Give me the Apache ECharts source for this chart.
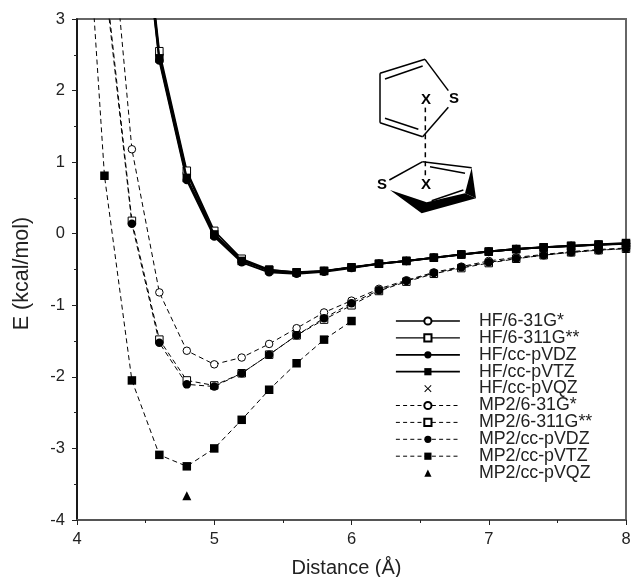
<!DOCTYPE html>
<html><head><meta charset="utf-8">
<style>html,body{margin:0;padding:0;background:#fff}#c{width:632px;height:577px}</style>
<script src="https://cdn.jsdelivr.net/npm/echarts@6/dist/echarts.min.js"></script>
</head><body><div id="c"></div>
<script>
const xHF = [4.4,4.6,4.8,5.0,5.2,5.4,5.6,5.8,6.0,6.2,6.4,6.6,6.8,7.0,7.2,7.4,7.6,7.8,8.0];
const xMP = [4.2,4.4,4.6,4.8,5.0,5.2,5.4,5.6,5.8,6.0,6.2,6.4,6.6,6.8,7.0,7.2,7.4,7.6,7.8,8.0];
const xTZ = [4.0,4.2,4.4,4.6,4.8,5.0,5.2,5.4,5.6,5.8,6.0];
const hf631 = [5.9,2.5,0.85,0.0,-0.36,-0.52,-0.55,-0.52,-0.47,-0.42,-0.38,-0.335,-0.29,-0.25,-0.215,-0.19,-0.17,-0.155,-0.14];
const hf6311 = [6.0,2.55,0.88,0.04,-0.35,-0.5,-0.54,-0.52,-0.47,-0.42,-0.38,-0.335,-0.29,-0.25,-0.215,-0.19,-0.17,-0.155,-0.14];
const hfVDZ = [5.8,2.42,0.75,-0.04,-0.4,-0.54,-0.56,-0.53,-0.48,-0.42,-0.38,-0.335,-0.29,-0.25,-0.215,-0.19,-0.17,-0.155,-0.14];
const hfVTZ = [5.85,2.45,0.78,-0.01,-0.38,-0.51,-0.54,-0.52,-0.47,-0.42,-0.38,-0.335,-0.29,-0.25,-0.215,-0.19,-0.17,-0.15,-0.13];
const hfVQZx = [4.8]; const hfVQZ = [0.78];
const mp631 = [5.4,1.18,-0.82,-1.635,-1.825,-1.73,-1.54,-1.32,-1.1,-0.935,-0.77,-0.65,-0.54,-0.46,-0.38,-0.33,-0.29,-0.25,-0.22,-0.2];
const mp6311 = [3.7,0.18,-1.48,-2.05,-2.12,-1.95,-1.69,-1.42,-1.2,-1.0,-0.8,-0.67,-0.56,-0.48,-0.41,-0.35,-0.3,-0.26,-0.23,-0.21];
const mpVDZ = [3.6,0.14,-1.525,-2.105,-2.135,-1.95,-1.69,-1.42,-1.18,-0.97,-0.79,-0.66,-0.55,-0.47,-0.4,-0.345,-0.3,-0.26,-0.23,-0.205];
const mpVTZ = [6.7,0.81,-2.05,-3.09,-3.25,-3.0,-2.6,-2.18,-1.81,-1.48,-1.22];
const mpVQZx = [4.8]; const mpVQZ = [-3.66];
const names = ['HF/6-31G*','HF/6-311G**','HF/cc-pVDZ','HF/cc-pVTZ','HF/cc-pVQZ','MP2/6-31G*','MP2/6-311G**','MP2/cc-pVDZ','MP2/cc-pVTZ','MP2/cc-pVQZ'];
const crossPath = 'path://M1 0L5 4L9 0L10 1L6 5L10 9L9 10L5 6L1 10L0 9L4 5L0 1Z';
const INK = '#000';
const DASH = [5, 3.5];

const zip = (xs, ys) => xs.map((x, i) => [x, ys[i]]);
function line(name, xs, ys, sym, open, solid, width, z) {
  return {
    name, type: 'line', data: zip(xs, ys), symbol: sym, symbolSize: open ? 7.5 : 8.5, z,
    showAllSymbol: true, clip: true, animation: false,
    itemStyle: { color: open ? '#fff' : INK, borderColor: INK, borderWidth: open ? 1 : 0, opacity: 1 },
    lineStyle: { color: INK, width, type: solid ? 'solid' : DASH }
  };
}
function dots(name, xs, ys, sym, size, z) {
  return {
    name, type: 'line', data: zip(xs, ys), symbol: sym, symbolSize: size, z, clip: true, animation: false,
    itemStyle: { color: INK, borderWidth: 0 }, lineStyle: { width: 0, color: 'rgba(0,0,0,0)' }
  };
}
const series = [
  line(names[0], xHF, hf631, 'circle', true, true, 1.6, 3),
  line(names[1], xHF, hf6311, 'rect', true, true, 1.6, 3),
  line(names[2], xHF, hfVDZ, 'circle', false, true, 2, 4),
  line(names[3], xHF, hfVTZ, 'rect', false, true, 2, 4),
  dots(names[4], hfVQZx, hfVQZ, crossPath, 6, 4),
  line(names[5], xMP, mp631, 'circle', true, false, 1, 2),
  line(names[6], xMP, mp6311, 'rect', true, false, 1, 2),
  line(names[7], xMP, mpVDZ, 'circle', false, false, 1, 2),
  line(names[8], xTZ, mpVTZ, 'rect', false, false, 1, 2),
  dots(names[9], mpVQZx, mpVQZ, 'triangle', 9, 2)
];

// molecule sketch: coordinates in a local 3x frame placed at (350,30)
const bonds = [
  [225,88,90,130,3],[90,130,90,278,3],[90,278,218,320,3],[218,320,295,232,3],[225,88,295,182,3],
  [105,147,218,108,3],[105,265,205,298,3],
  [118,450,218,395,3],[218,395,365,413,3],[240,410,345,430,3],[245,512,340,480,3]
];
const solidShapes = [
  [[120,480],[215,550],[378,505],[345,490],[230,517]],
  [[365,413],[378,505],[345,490]]
];
const labels = [['S',312,208],['X',228,210],['S',96,465],['X',228,465]];
const sx = v => 350 + v / 3, sy = v => 30 + v / 3;
const graphic = [];
bonds.forEach(b => graphic.push({ type: 'line', silent: true, z: 10,
  shape: { x1: sx(b[0]), y1: sy(b[1]), x2: sx(b[2]), y2: sy(b[3]) },
  style: { stroke: INK, lineWidth: 1.5 } }));
graphic.push({ type: 'line', silent: true, z: 10,
  shape: { x1: sx(226), y1: sy(232), x2: sx(226), y2: sy(445) },
  style: { stroke: INK, lineWidth: 1.5, lineDash: [5, 4] } });
solidShapes.forEach(p => graphic.push({ type: 'polygon', silent: true, z: 10,
  shape: { points: p.map(q => [sx(q[0]), sy(q[1])]) }, style: { fill: INK } }));
labels.forEach(l => graphic.push({ type: 'text', silent: true, z: 11, x: sx(l[1]), y: sy(l[2]),
  style: { text: l[0], fill: INK, font: 'bold 15px "Liberation Sans"', align: 'center', verticalAlign: 'middle',
           backgroundColor: '#fff' } }));

const FONT = '"Liberation Sans", Arial, sans-serif';
const chart = echarts.init(document.getElementById('c'), null, { renderer: 'canvas' });
chart.setOption({
  animation: false,
  backgroundColor: '#fff',
  textStyle: { fontFamily: FONT },
  grid: { left: 77, right: 6, top: 19, bottom: 57, show: true, borderWidth: 2, borderColor: '#666', backgroundColor: '#fff', outerBoundsMode: 'none' },
  xAxis: {
    type: 'value', min: 4, max: 8, interval: 1,
    name: 'Distance (Å)', nameLocation: 'middle', nameGap: 38,
    nameTextStyle: { fontSize: 20, color: '#222', padding: [0, 10, 0, 0] },
    axisLine: { onZero: false, lineStyle: { color: '#555', width: 2 } },
    axisTick: { inside: false, length: 5, lineStyle: { color: '#222', width: 1 } },
    minorTick: { show: true, splitNumber: 2, length: 3, lineStyle: { color: '#222' } },
    splitLine: { show: false },
    axisLabel: { fontSize: 16.5, color: '#222', margin: 11 }
  },
  yAxis: {
    type: 'value', min: -4, max: 3, interval: 1,
    name: 'E (kcal/mol)', nameLocation: 'middle', nameGap: 44,
    nameTextStyle: { fontSize: 21.5, color: '#222', padding: [0, 8, 0, 0] },
    axisLine: { onZero: false, lineStyle: { color: '#000', width: 1.5 } },
    axisTick: { inside: false, length: 5, lineStyle: { color: '#222', width: 1 } },
    minorTick: { show: true, splitNumber: 2, length: 3, lineStyle: { color: '#222' } },
    splitLine: { show: false },
    axisLabel: { fontSize: 16.5, color: '#222', margin: 12 }
  },
  legend: {
    orient: 'vertical', left: 395, top: 312, padding: 0,
    itemWidth: 64, itemHeight: 9, itemGap: -1.1,
    selectedMode: false,
    data: names.map((name, i) => {
      const solid = i < 5;
      const item = { name, lineStyle: { width: solid ? (i < 2 ? 1.3 : 1.8) : 1, type: solid ? 'solid' : [4, 3.2], color: INK } };
      if (i === 4 || i === 9) item.lineStyle = { width: 0, color: 'rgba(0,0,0,0)' };
      return item;
    }),
    textStyle: { fontSize: 17.8, color: '#222', padding: [0, 0, 0, 14], fontFamily: FONT }
  },
  series,
  graphic
});
</script></body></html>
